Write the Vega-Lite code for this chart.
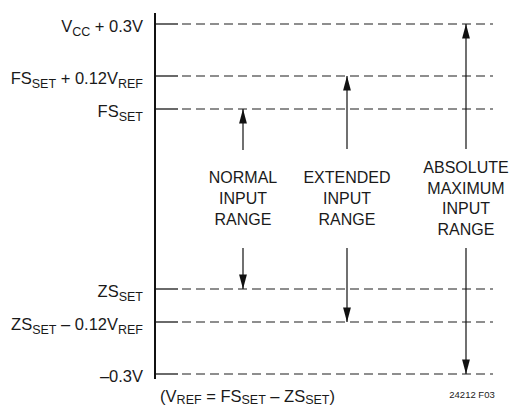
{
  "$schema": "https://vega.github.io/schema/vega-lite/v6.json",
  "width": 510,
  "height": 406,
  "padding": 0,
  "autosize": "none",
  "background": "white",
  "config": {"view": {"stroke": null}},
  "datasets": {
    "axisline": [{"x": 155, "y": 13, "y2": 379}],
    "levels": [
      {"level": "Vcc+0.3V", "y": 24, "xs": 155, "xe": 178, "xd": 182, "xend": 493},
      {"level": "FS+0.12Vref", "y": 76, "xs": 155, "xe": 178, "xd": 182, "xend": 493},
      {"level": "FS", "y": 109, "xs": 155, "xe": 178, "xd": 182, "xend": 493},
      {"level": "ZS", "y": 289, "xs": 155, "xe": 178, "xd": 182, "xend": 493},
      {"level": "ZS-0.12Vref", "y": 322, "xs": 155, "xe": 178, "xd": 182, "xend": 493},
      {"level": "-0.3V", "y": 374, "xs": 155, "xe": 178, "xd": 182, "xend": 493}
    ],
    "arrows": [
      {"x": 243, "y": 109, "y2": 150},
      {"x": 243, "y": 248, "y2": 289},
      {"x": 347, "y": 76, "y2": 149},
      {"x": 347, "y": 248, "y2": 322},
      {"x": 466, "y": 24, "y2": 149},
      {"x": 466, "y": 248, "y2": 374}
    ],
    "heads": [
      {"x": 243, "y": 109, "dir": "up"},
      {"x": 347, "y": 76, "dir": "up"},
      {"x": 466, "y": 24, "dir": "up"},
      {"x": 243, "y": 289, "dir": "down"},
      {"x": 347, "y": 322, "dir": "down"},
      {"x": 466, "y": 374, "dir": "down"}
    ],
    "center": [
      {"text": "NORMAL", "x": 243, "y": 178},
      {"text": "INPUT", "x": 243, "y": 199},
      {"text": "RANGE", "x": 243, "y": 220},
      {"text": "EXTENDED", "x": 347, "y": 178},
      {"text": "INPUT", "x": 347, "y": 199},
      {"text": "RANGE", "x": 347, "y": 220},
      {"text": "ABSOLUTE", "x": 466, "y": 168},
      {"text": "MAXIMUM", "x": 466, "y": 189},
      {"text": "INPUT", "x": 466, "y": 209},
      {"text": "RANGE", "x": 466, "y": 230}
    ],
    "main": [
      {"text": "V", "x": 72.2, "y": 24},
      {"text": "\u00a0+ 0.3V", "x": 143, "y": 24},
      {"text": "FS", "x": 31.8, "y": 76},
      {"text": "\u00a0+ 0.12V", "x": 118, "y": 76},
      {"text": "FS", "x": 118.7, "y": 109},
      {"text": "ZS", "x": 118.7, "y": 289},
      {"text": "ZS", "x": 32.2, "y": 322},
      {"text": "\u00a0– 0.12V", "x": 118, "y": 322},
      {"text": "–0.3V", "x": 143, "y": 374},
      {"text": "(V", "x": 176.6, "y": 394.5},
      {"text": "\u00a0= FS", "x": 241.5, "y": 394.5},
      {"text": "\u00a0– ZS", "x": 305.2, "y": 394.5},
      {"text": ")", "x": 335, "y": 394.5}
    ],
    "sub": [
      {"text": "CC", "x": 90.25, "y": 24},
      {"text": "SET", "x": 56.1, "y": 76},
      {"text": "REF", "x": 143, "y": 76},
      {"text": "SET", "x": 143, "y": 109},
      {"text": "SET", "x": 143, "y": 289},
      {"text": "SET", "x": 56.5, "y": 322},
      {"text": "REF", "x": 143, "y": 322},
      {"text": "REF", "x": 201.6, "y": 392},
      {"text": "SET", "x": 265.8, "y": 392},
      {"text": "SET", "x": 329.5, "y": 392}
    ],
    "note": [{"text": "24212 F03", "x": 472, "y": 395}]
  },
  "encoding": {
    "x": {"field": "x", "type": "quantitative", "scale": {"domain": [0, 510], "nice": false, "zero": false}, "axis": null},
    "y": {"field": "y", "type": "quantitative", "scale": {"domain": [0, 406], "nice": false, "zero": false, "reverse": true}, "axis": null}
  },
  "layer": [
    {
      "data": {"name": "levels"},
      "mark": {"type": "rule", "color": "#6a6a6a", "strokeWidth": 1.7, "strokeDash": [9, 5]},
      "encoding": {"x": {"field": "xd", "type": "quantitative"}, "x2": {"field": "xend"}, "y": {"field": "y", "type": "quantitative"}}
    },
    {
      "data": {"name": "levels"},
      "mark": {"type": "rule", "color": "#444444", "strokeWidth": 1.6},
      "encoding": {"x": {"field": "xs", "type": "quantitative"}, "x2": {"field": "xe"}, "y": {"field": "y", "type": "quantitative"}}
    },
    {
      "data": {"name": "axisline"},
      "mark": {"type": "rule", "color": "#111111", "strokeWidth": 2},
      "encoding": {"y2": {"field": "y2"}}
    },
    {
      "data": {"name": "arrows"},
      "mark": {"type": "rule", "color": "#111111", "strokeWidth": 1.2},
      "encoding": {"y2": {"field": "y2"}}
    },
    {
      "data": {"name": "heads"},
      "mark": {"type": "point", "filled": true, "opacity": 1, "color": "#111111", "size": 841, "strokeWidth": 0},
      "encoding": {
        "shape": {"field": "dir", "type": "nominal", "legend": null,
          "scale": {"domain": ["up", "down"], "range": ["M0,0L0.27,1L-0.27,1Z", "M0,0L0.27,-1L-0.27,-1Z"]}}
      }
    },
    {
      "data": {"name": "center"},
      "mark": {"type": "text", "font": "Liberation Sans, sans-serif", "fontSize": 16, "align": "center", "baseline": "middle", "color": "#1a1a1a"},
      "encoding": {"text": {"field": "text", "type": "nominal"}}
    },
    {
      "data": {"name": "main"},
      "mark": {"type": "text", "font": "Liberation Sans, sans-serif", "fontSize": 16.5, "align": "right", "baseline": "alphabetic", "dy": 7.5, "color": "#1a1a1a"},
      "encoding": {"text": {"field": "text", "type": "nominal"}}
    },
    {
      "data": {"name": "sub"},
      "mark": {"type": "text", "font": "Liberation Sans, sans-serif", "fontSize": 12.5, "align": "right", "baseline": "alphabetic", "dy": 11.5, "color": "#1a1a1a"},
      "encoding": {"text": {"field": "text", "type": "nominal"}}
    },
    {
      "data": {"name": "note"},
      "mark": {"type": "text", "font": "Liberation Sans, sans-serif", "fontSize": 9.5, "align": "center", "baseline": "middle", "color": "#1a1a1a"},
      "encoding": {"text": {"field": "text", "type": "nominal"}}
    }
  ]
}
